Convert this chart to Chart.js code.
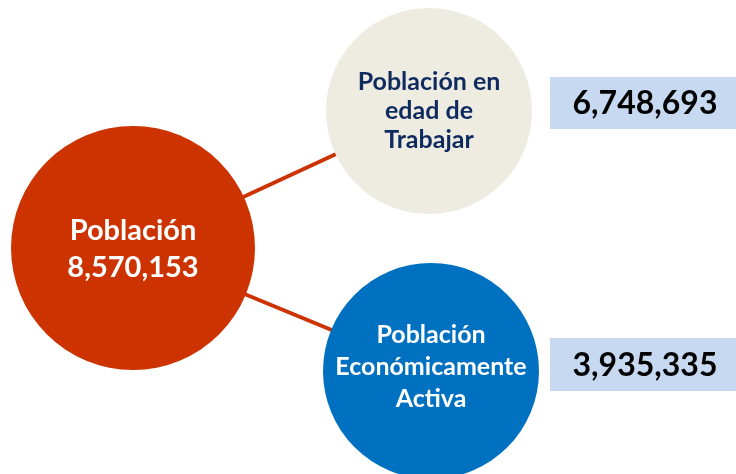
<!DOCTYPE html>
<html><head><meta charset="utf-8">
<script src="https://cdn.jsdelivr.net/npm/chart.js@4"></script>
<style>html,body{margin:0;padding:0;background:#fff;}canvas{display:block}</style>
</head><body>
<canvas id="c" width="736" height="474"></canvas>
<script>
// ---- data ----
const categories = ['Población', 'Población en edad de Trabajar', 'Población Económicamente Activa'];
const values = [8570153, 6748693, 3935335];
const circleLabels = [['Población'], ['Población en', 'edad de', 'Trabajar'], ['Población', 'Económicamente', 'Activa']];
const links = [[0, 1], [0, 2]];
const boxedValues = [1, 2]; // categories whose value sits in a side box

// ---- layout / style (not data) ----
const nodePos = [{x: 133, y: 248, r: 122}, {x: 429, y: 111, r: 103}, {x: 431, y: 371, r: 108}];
const nodeColors = ['#CC3300', '#EEECE1', '#0070C0'];
const textColors = ['#FFFFFF', '#0E2A5E', '#FFFFFF'];
const textBaselines = [[-8, 29], [-21, 8, 37], [-28, 4, 36]];
const textSizes = [29, 25, 25];
const boxLayout = {1: {x0: 550, x1: 736, y0: 77, y1: 129}, 2: {x0: 550, x1: 736, y0: 338, y1: 391}};
const fmt = v => v.toLocaleString('en-US');
const FONT = 'Lato, "Open Sans", sans-serif';

// let the plot area span the whole canvas (no automatic padding for big bubbles)
Chart.BubbleController.prototype.getMaxOverflow = function () { return 0; };
Chart.LineController.prototype.getMaxOverflow = function () { return 0; };

const lineDatasets = links.map(([a, b]) => ({
  type: 'line',
  label: categories[a] + ' → ' + categories[b],
  data: [{x: nodePos[a].x, y: nodePos[a].y}, {x: nodePos[b].x, y: nodePos[b].y}],
  borderColor: '#CC3300', borderWidth: 4, pointRadius: 0, showLine: true, fill: false, order: 5
}));

const bubbleDataset = {
  type: 'bubble',
  label: 'Población',
  data: categories.map((c, i) => ({x: nodePos[i].x, y: nodePos[i].y, r: nodePos[i].r, v: values[i]})),
  backgroundColor: nodeColors, borderWidth: 0, hoverRadius: 0, order: 1
};

const labelsPlugin = {
  id: 'labels',
  afterDatasetsDraw(chart) {
    const {ctx, scales: {x, y}} = chart;
    ctx.save();
    // side boxes
    boxedValues.forEach(i => {
      const b = boxLayout[i];
      const px0 = x.getPixelForValue(b.x0), px1 = x.getPixelForValue(b.x1);
      const py0 = y.getPixelForValue(b.y0), py1 = y.getPixelForValue(b.y1);
      ctx.fillStyle = '#C6D9F1';
      ctx.fillRect(px0, py0, px1 - px0, py1 - py0);
      ctx.fillStyle = '#000000';
      ctx.font = 'bold 32px ' + FONT;
      ctx.textAlign = 'center';
      ctx.textBaseline = 'alphabetic';
      ctx.fillText(fmt(values[i]), (px0 + px1) / 2 + 2, (py0 + py1) / 2 + 11);
    });
    // circle labels
    const meta = chart.getDatasetMeta(chart.data.datasets.length - 1);
    meta.data.forEach((el, i) => {
      const lines = circleLabels[i].slice();
      if (!boxedValues.includes(i)) lines.push(fmt(values[i]));
      ctx.fillStyle = textColors[i];
      ctx.font = 'bold ' + textSizes[i] + 'px ' + FONT;
      ctx.textAlign = 'center';
      ctx.textBaseline = 'alphabetic';
      lines.forEach((t, k) => ctx.fillText(t, el.x, el.y + textBaselines[i][k]));
    });
    ctx.restore();
  }
};

new Chart(document.getElementById('c'), {
  type: 'bubble',
  data: {datasets: [...lineDatasets, bubbleDataset]},
  options: {
    responsive: false,
    animation: false,
    layout: {padding: 0},
    plugins: {legend: {display: false}, tooltip: {enabled: false}},
    scales: {
      x: {type: 'linear', min: 0, max: 736, display: false},
      y: {type: 'linear', min: 0, max: 474, reverse: true, display: false}
    }
  },
  plugins: [labelsPlugin]
});
</script>
</body></html>
